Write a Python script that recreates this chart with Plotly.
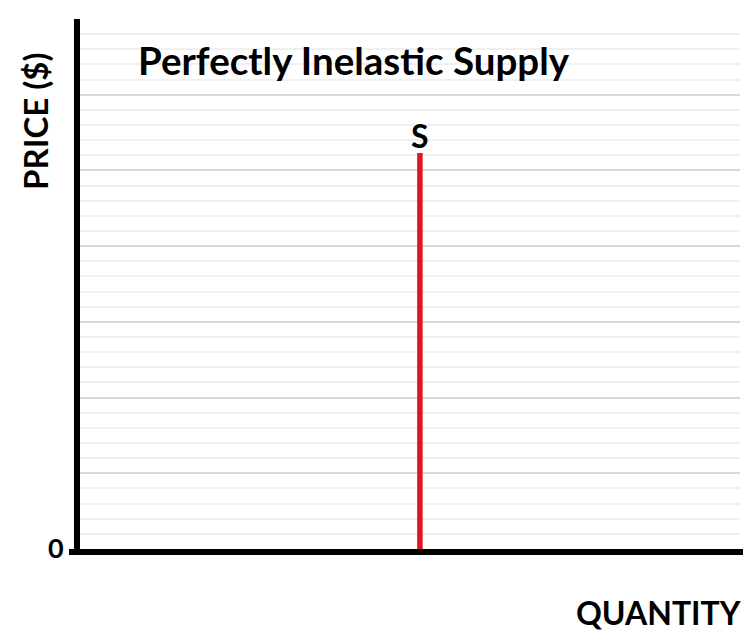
import plotly.graph_objects as go

# Data
supply_quantity = [5.15, 5.15]
supply_price = [0, 26.15]
price_ticks = [0, 5, 10, 15, 20, 25, 30, 35]
price_tick_labels = ["0", "", "", "", "", "", "", ""]

FONT = "Lato"
OFF = 8  # page body margin
W, H = 743, 629
L, R, T, B = 72, 11, 11, 88
PW, PH = W - L - R, H - T - B


def px(xpage):
    return (xpage - OFF - L) / PW


def py(ypage):
    return (H - B - (ypage - OFF)) / PH


fig = go.Figure()
fig.add_trace(go.Scatter(
    x=supply_quantity, y=supply_price, mode="lines",
    line=dict(color="#e3141b", width=5.5), showlegend=False, hoverinfo="skip"))

fig.update_layout(
    width=W, height=H,
    margin=dict(l=L, r=R, t=T, b=B),
    plot_bgcolor="white", paper_bgcolor="white",
    font=dict(family=FONT, color="black"),
    xaxis=dict(range=[0, 10], showgrid=False, zeroline=False, showticklabels=False,
               ticks="", showline=False, fixedrange=True),
    yaxis=dict(range=[0, 35], tickvals=price_ticks, ticktext=price_tick_labels,
               showgrid=True, gridcolor="#d9d9d9", gridwidth=2, zeroline=False,
               showline=True, linecolor="black", linewidth=6, ticks="",
               ticklabelstandoff=5,
               tickfont=dict(family=FONT, size=27, color="black", weight="bold"),
               minor=dict(dtick=1, showgrid=True, gridcolor="#f0f0f0", gridwidth=2),
               fixedrange=True),
    shapes=[dict(type="line", xref="paper", yref="paper",
                 x0=px(69), x1=px(747), y0=py(552), y1=py(552),
                 line=dict(color="black", width=6))],
    annotations=[
        dict(text="<b>Perfectly Inelastic Supply</b>", xref="paper", yref="paper",
             x=px(354), y=py(60), xanchor="center", yanchor="middle",
             showarrow=False, font=dict(size=38.5, family=FONT)),
        dict(text="<b>S</b>", x=supply_quantity[1], y=supply_price[1], yshift=18,
             xanchor="center", yanchor="middle", showarrow=False,
             font=dict(size=32, family=FONT)),
        dict(text="<b>PRICE ($)</b>", xref="paper", yref="paper",
             x=px(35), y=py(121), textangle=-90,
             xanchor="center", yanchor="middle", showarrow=False,
             font=dict(size=33, family=FONT)),
        dict(text="<b>QUANTITY</b>", xref="paper", yref="paper",
             x=px(743), y=py(612), xanchor="right", yanchor="middle",
             showarrow=False, font=dict(size=32, family=FONT)),
    ],
)

fig.write_html("out.html")
